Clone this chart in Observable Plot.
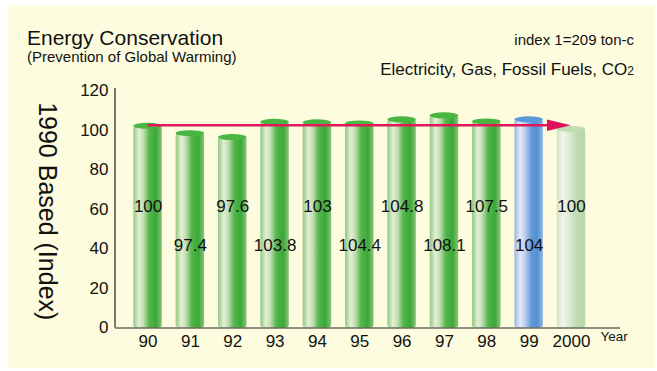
<!DOCTYPE html>
<html><head><meta charset="utf-8">
<script src="https://cdn.jsdelivr.net/npm/d3@7"></script>
<script src="https://cdn.jsdelivr.net/npm/@observablehq/plot@0.6"></script>
<style>
html,body{margin:0;padding:0;background:#fff;}
#wrap{position:relative;width:657px;height:371px;overflow:hidden;font-family:"Liberation Sans",Arial,sans-serif;color:#111;}
#bg{position:absolute;left:8px;top:5px;width:647px;height:363px;background:#fdfcde;}
#chart{position:absolute;left:0;top:0;}
.t{position:absolute;white-space:nowrap;line-height:1;}
</style></head><body>
<div id="wrap">
  <div id="bg"></div>
  <div id="chart"></div>
  <div class="t" style="left:27px;top:27.2px;font-size:21px;">Energy Conservation</div>
  <div class="t" style="left:27px;top:49px;font-size:15px;">(Prevention of Global Warming)</div>
  <div class="t" style="right:23px;top:32.3px;font-size:15px;">index 1=209 ton-c</div>
  <div class="t" style="right:23px;top:61px;font-size:17px;">Electricity, Gas, Fossil Fuels, CO<span style="font-size:12px">2</span></div>
</div>
<script>
// ---- data ----
const years   = ["90","91","92","93","94","95","96","97","98","99","2000"];
const heights = [101.9, 98.2, 96.2, 103.9, 103.7, 103.1, 105.2, 107.2, 104.1, 105.2, 100.3];
const labels  = ["100","97.4","97.6","103.8","103","104.4","104.8","108.1","107.5","104","100"];
const kinds   = ["actual","actual","actual","actual","actual","actual","actual","actual","actual","estimate","target"];
const yTicks  = [0, 20, 40, 60, 80, 100, 120];
const arrowLevel = 102.2;

const data = years.map((year, i) => ({year, h: heights[i], label: labels[i], kind: kinds[i], i}));

const topFill = {actual: "#4ab642", estimate: "#5b9ad8", target: "#c0dcb2"};
const gradStops = {
  actual:   [[0,"#93c883"],[0.2,"#e3efd7"],[0.36,"#c0deb1"],[0.56,"#55b64b"],[0.8,"#3ba838"],[1,"#88c47b"]],
  estimate: [[0,"#9db6e2"],[0.2,"#e3e9f8"],[0.38,"#bacdee"],[0.6,"#6199d7"],[0.8,"#5590d2"],[1,"#93b5e4"]],
  target:   [[0,"#cfe3c4"],[0.2,"#f2f5eb"],[0.42,"#deecd4"],[0.7,"#bfdbb1"],[1,"#b7d7a9"]]
};

function defsMark() {
  const defs = d3.create("svg:defs");
  for (const k of Object.keys(gradStops)) {
    const lg = defs.append("linearGradient").attr("id", "g-" + k)
      .attr("x1", 0).attr("x2", 1).attr("y1", 0).attr("y2", 0);
    for (const [o, c] of gradStops[k]) lg.append("stop").attr("offset", o).attr("stop-color", c);
  }
  return defs.node();
}

function topsMark(index, scales) {
  const x = scales.x, y = scales.y, bw = x.bandwidth();
  const g = d3.create("svg:g");
  for (const d of data) {
    g.append("ellipse")
      .attr("cx", x(d.year) + bw / 2).attr("cy", y(d.h))
      .attr("rx", bw / 2).attr("ry", 3)
      .attr("fill", topFill[d.kind]);
  }
  return g.node();
}

function axisLineMark(index, scales, values, dims) {
  const y = scales.y;
  return d3.create("svg:line")
    .attr("x1", dims.marginLeft).attr("x2", dims.marginLeft)
    .attr("y1", y(120) - 2).attr("y2", y(0))
    .attr("stroke", "#222").attr("stroke-width", 1.2).node();
}

function arrowMark(index, scales) {
  const x = scales.x, y = scales.y, bw = x.bandwidth();
  const x0 = x(years[0]) + bw / 2;
  const x1 = x(years[years.length - 1]) + bw / 2;
  const yy = y(arrowLevel);
  const g = d3.create("svg:g");
  g.append("line").attr("x1", x0).attr("x2", x1 - 22).attr("y1", yy).attr("y2", yy)
    .attr("stroke", "#e2185b").attr("stroke-width", 2.6);
  g.append("path").attr("d", `M${x1 - 24},${yy - 5.8}L${x1},${yy}L${x1 - 24},${yy + 5.8}Z`)
    .attr("fill", "#e2125a");
  return g.node();
}

const plot = Plot.plot({
  width: 657,
  height: 371,
  marginLeft: 115,
  marginRight: 37,
  marginTop: 90,
  marginBottom: 43.5,
  style: {background: "transparent", fontFamily: "Liberation Sans, Arial, sans-serif", fontSize: "17px", color: "#111"},
  x: {domain: years, paddingInner: 0.327, paddingOuter: 0.627, align: 0.345, round: false, label: null, tickSize: 0, tickPadding: 7},
  y: {domain: [0, 120], ticks: yTicks, label: null, tickSize: 0, tickPadding: 7},
  marks: [
    defsMark,
    Plot.barY(data, {filter: d => d.kind === "actual", x: "year", y: "h", fill: "url(#g-actual)", rx: 3}),
    Plot.barY(data, {filter: d => d.kind === "estimate", x: "year", y: "h", fill: "url(#g-estimate)", rx: 3}),
    Plot.barY(data, {filter: d => d.kind === "target", x: "year", y: "h", fill: "url(#g-target)", rx: 3}),
    topsMark,
    arrowMark,
    Plot.ruleY([0], {stroke: "#222", strokeWidth: 1.2}),
    axisLineMark,
    Plot.text(data, {x: "year", y: d => (d.i % 2 ? 41.5 : 61.5), text: "label", fill: "#111", fontSize: 17}),
    Plot.text(["Year"], {frameAnchor: "bottom-right", text: d => d, textAnchor: "start", dx: -20, dy: 13, fontSize: 13.5, fill: "#111"}),
    Plot.text(["1990 Based (Index)"], {frameAnchor: "left", text: d => d, textAnchor: "middle", lineAnchor: "middle", rotate: 90, dx: -69, dy: 2, fontSize: 25, fill: "#111"})
  ]
});
document.getElementById("chart").appendChild(plot);
</script>
</body></html>
